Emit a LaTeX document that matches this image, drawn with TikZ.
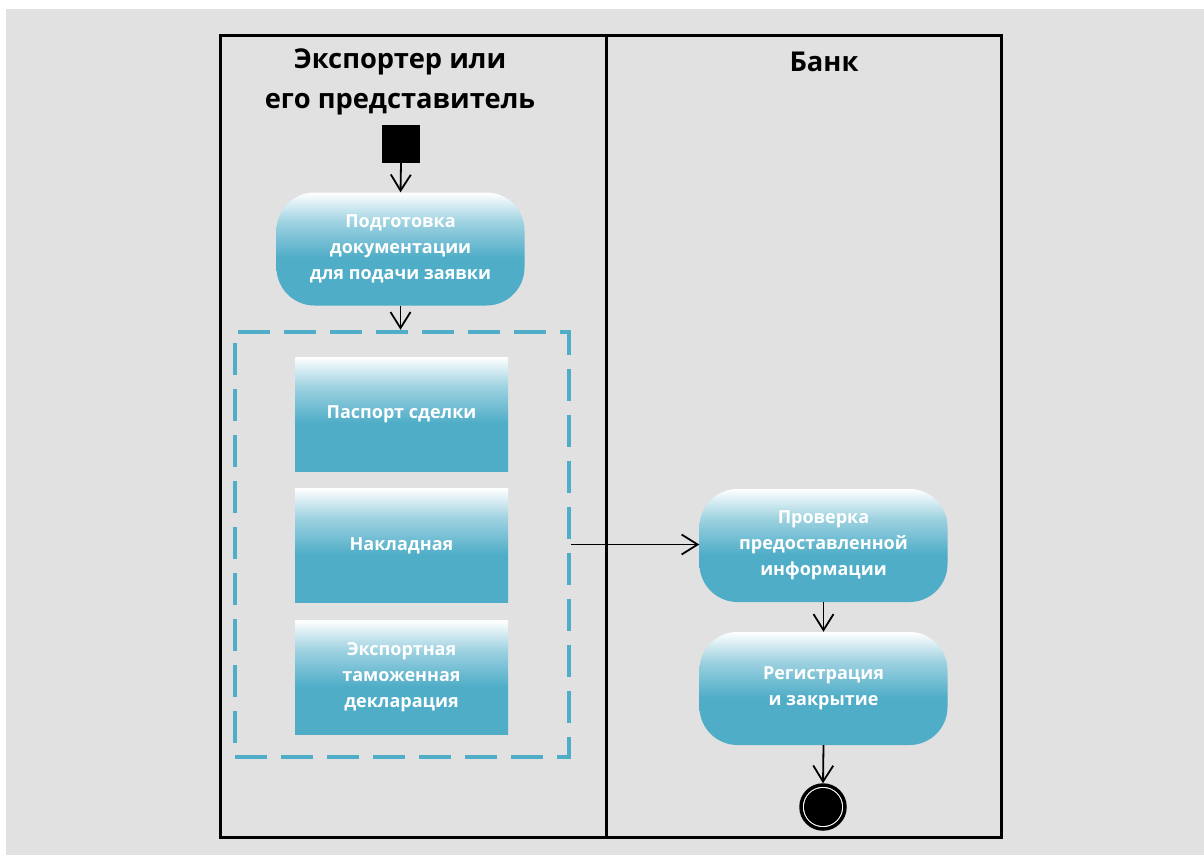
\documentclass[tikz,border=0pt]{standalone}
\usepackage{fontspec}
\setmainfont{Open Sans}
\usetikzlibrary{arrows.meta}
\definecolor{laneblue}{RGB}{79,173,200}
\colorlet{laneblueLight}{laneblue!55!white}
\definecolor{panelgray}{RGB}{225,225,225}
% white at the top edge, easing into solid blue below the middle
\pgfdeclareverticalshading{actshade}{100bp}{color(0bp)=(laneblue); color(46bp)=(laneblue); color(62bp)=(laneblueLight); color(75bp)=(white); color(100bp)=(white)}
\tikzset{
  lane/.style={draw=black, line width=3pt, inner sep=0pt, minimum height=802pt, anchor=north west},
  lanetitle/.style={font=\bfseries\fontsize{27.3}{40}\selectfont, align=center, text=black},
  activity/.style={shade, shading=actshade, rounded corners=38pt, minimum width=248pt, minimum height=113pt,
    inner sep=0pt, text=white, align=center, font=\bfseries\fontsize{18}{26}\selectfont},
  docbox/.style={shade, shading=actshade, minimum width=213pt, minimum height=114pt,
    inner sep=0pt, text=white, align=center, font=\bfseries\fontsize{18}{26}\selectfont},
  groupbox/.style={draw=laneblue, line width=4.5pt, dash pattern=on 32pt off 14pt, minimum width=334pt, minimum height=425pt, inner sep=0pt},
  flow/.style={line width=1.8pt, -{Straight Barb[length=16pt,width=20pt]}},
}
\begin{document}
\begin{tikzpicture}[x=1pt, y=-1pt]
  \useasboundingbox (0,0) rectangle (1204,855);
  \fill[white] (0,0) rectangle (1204,855);
  \fill[panelgray] (6,9) rectangle (1204,855);

  % swimlanes
  \node[lane, minimum width=386pt] (lane1) at (219,34) {};
  \node[lane, minimum width=395pt] (lane2) at (605,34) {};
  \node[lanetitle] (t1) at (400,81.5) {Экспортер или\\его представитель};
  \node[lanetitle] (t2) at (824,61.5) {Банк};

  % exporter lane
  \node[fill=black, minimum size=38pt, inner sep=0pt] (start) at (401,144) {};
  \node[activity] (prep) at (400.5,249) {Подготовка\\документации\\для подачи заявки};
  \node[groupbox] (group) at (402,544.5) {};
  \node[docbox] (pass) at (401.5,414) {Паспорт сделки};
  \node[docbox] (waybill) at (401.5,545.5) {Накладная};
  \node[docbox] (decl) at (401.5,677.5) {Экспортная\\таможенная\\декларация};

  % bank lane
  \node[activity] (check) at (823.5,545.5) {Проверка\\предоставленной\\информации};
  \node[activity] (reg) at (823.5,688.5) {Регистрация\\и закрытие};
  \node[circle, draw=black, line width=3.5pt, fill=white, minimum size=44pt, inner sep=0pt] (endring) at (823,807) {};
  \node[circle, fill=black, minimum size=38pt, inner sep=0pt] (enddot) at (823,807) {};

  % control flow
  \draw[flow] (start.south) -- (prep.north);
  \draw[flow] (prep.south) -- (prep.south |- group.north);
  \draw[flow] (group.east) -- (group.east -| check.west);
  \draw[flow] (check.south) -- (reg.north);
  \draw[flow] (reg.south) -- (endring.north);
\end{tikzpicture}
\end{document}
